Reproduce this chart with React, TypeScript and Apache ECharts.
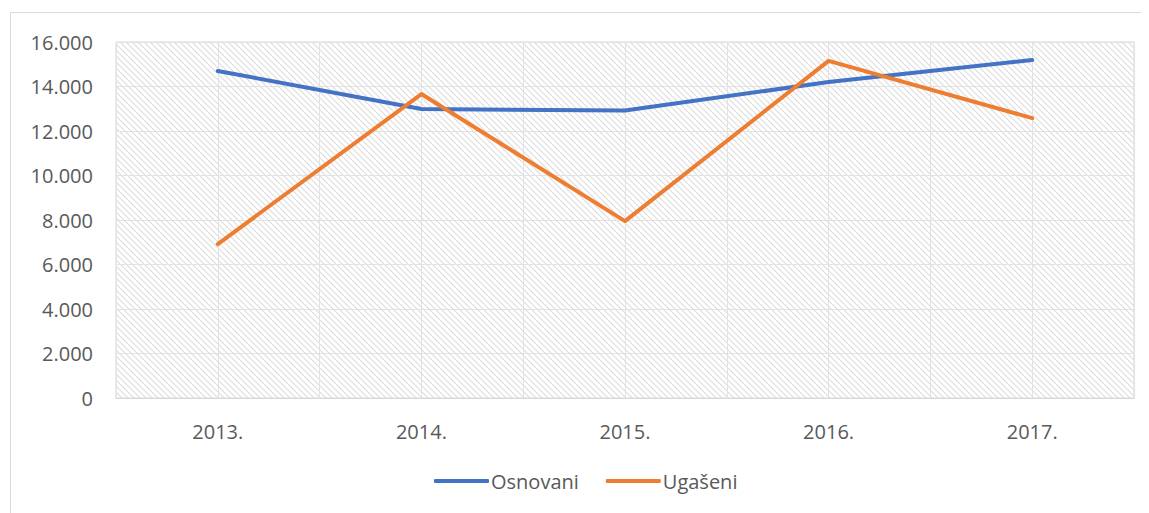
import React, { useEffect, useRef } from "react";
import * as echarts from "echarts";

const years = ["2013.", "2014.", "2015.", "2016.", "2017."];
const halfTicks = ["a", "b", "c", "d", "e", "f", "g", "h", "i", "j"];
const osnovani = [14700, 12990, 12920, 14200, 15190];
const ugaseni = [6920, 13660, 7950, 15150, 12580];

function makeHatch(): string {
  const s = 6;
  const c = document.createElement("canvas");
  c.width = s;
  c.height = s;
  const ctx = c.getContext("2d")!;
  ctx.fillStyle = "#ffffff";
  ctx.fillRect(0, 0, s, s);
  ctx.strokeStyle = "#dcdcdc";
  ctx.lineWidth = 1.1;
  ctx.beginPath();
  ctx.moveTo(-s, 0);
  ctx.lineTo(s, 2 * s);
  ctx.moveTo(0, 0);
  ctx.lineTo(s, s);
  ctx.moveTo(0, -s);
  ctx.lineTo(2 * s, s);
  ctx.stroke();
  return c.toDataURL();
}

export default function App() {
  const ref = useRef<HTMLDivElement>(null);
  useEffect(() => {
    if (!ref.current) return;
    const chart = echarts.init(ref.current, null, { renderer: "svg" });
    const font = "Open Sans";
    chart.setOption({
      animation: false,
      textStyle: { fontFamily: font },
      graphic: [
        {
          type: "rect",
          shape: { x: 2.5, y: 4.5, width: 1300, height: 600 },
          style: { fill: "none", stroke: "#d9d9d9", lineWidth: 1 },
          silent: true,
          z: -10,
        },
      ],
      grid: {
        left: 108,
        top: 34,
        right: 15,
        bottom: 115,
        show: true,
        borderColor: "#d9d9d9",
        borderWidth: 1,
        backgroundColor: { image: makeHatch(), repeat: "repeat" },
      },
      legend: {
        top: 458,
        left: 421,
        data: ["Osnovani", "Ugašeni"],
        icon: "roundRect",
        itemWidth: 55,
        itemHeight: 4,
        itemGap: 27,
        textStyle: { color: "#595959", fontSize: 20, fontFamily: font, padding: [0, 0, 0, -3] },
      },
      xAxis: [
        {
          type: "category",
          data: years,
          boundaryGap: true,
          axisLine: { lineStyle: { color: "#d9d9d9" } },
          axisTick: { show: false },
          axisLabel: { color: "#595959", fontSize: 20, margin: 23, fontFamily: font },
          splitLine: { show: false },
        },
        {
          type: "category",
          data: halfTicks,
          boundaryGap: true,
          position: "bottom",
          axisLine: { show: false },
          axisTick: { show: false },
          axisLabel: { show: false },
          splitLine: { show: true, interval: 0, lineStyle: { color: "#e2e2e2", width: 1 } },
        },
      ],
      yAxis: {
        type: "value",
        min: 0,
        max: 16000,
        interval: 2000,
        axisLine: { show: false },
        axisTick: { show: false },
        axisLabel: {
          color: "#595959",
          fontSize: 20,
          margin: 23,
          fontFamily: font,
          formatter: (v: number) => (v >= 1000 ? (v / 1000).toFixed(3) : String(v)),
        },
        splitLine: { lineStyle: { color: "#e2e2e2", width: 1 } },
      },
      series: [
        {
          name: "Osnovani",
          type: "line",
          data: osnovani,
          symbol: "none",
          lineStyle: { color: "#4472C4", width: 4, cap: "round", join: "round" },
          itemStyle: { color: "#4472C4" },
        },
        {
          name: "Ugašeni",
          type: "line",
          data: ugaseni,
          symbol: "none",
          lineStyle: { color: "#ED7D31", width: 4, cap: "round", join: "round" },
          itemStyle: { color: "#ED7D31" },
        },
      ],
    });
    return () => chart.dispose();
  }, []);
  return <div ref={ref} style={{ width: 1141, height: 505 }} />;
}
